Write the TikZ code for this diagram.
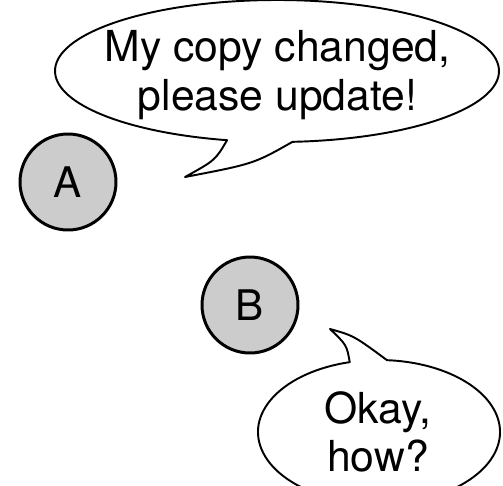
\documentclass[tikz,border=0pt]{standalone}
\usepackage{fontspec}
\setmainfont{TeX Gyre Heros}
\begin{document}
\begin{tikzpicture}[x=0.02cm, y=0.02cm,
        peer/.style={circle, draw, line width=1.7pt, fill=black!20,
            minimum size=1.92cm, inner sep=0pt, font=\fontsize{24}{27.5}\selectfont},
        bubble/.style={draw, line width=1.1pt, line join=round},
        speech/.style={align=center, inner sep=0pt, font=\fontsize{24.3}{27.5}\selectfont}]
        \useasboundingbox (0,0) rectangle (503,485);
        % the two peers
        \foreach \n/\x/\y in {A/68/303, B/250/180}
        \node[peer] (\n) at (\x,\y) {\n};
        % speech bubble of A
        \draw[bubble] (277,414) ++(274:222 and 71) coordinate (joinA)
            arc[start angle=274, end angle=617, x radius=222, y radius=71]
            .. controls (215.3,324.8) .. (185,308) coordinate (tipA)
            .. controls (253.8,321.2) .. (joinA) -- cycle;
        \node[speech] (askA) at (277.5,410) {My copy changed,\\please update!};
        % speech bubble of B
        \draw[bubble] (379,53) ++(104:121 and 72) coordinate (joinB)
            arc[start angle=104, end angle=446.2, x radius=121, y radius=72]
            .. controls (353.8,149.3) .. (330,156) coordinate (tipB)
            .. controls (346.7,140) .. (joinB) -- cycle;
        \node[speech] (replyB) at (378,53) {Okay,\\how?};
    \end{tikzpicture}
\end{document}
